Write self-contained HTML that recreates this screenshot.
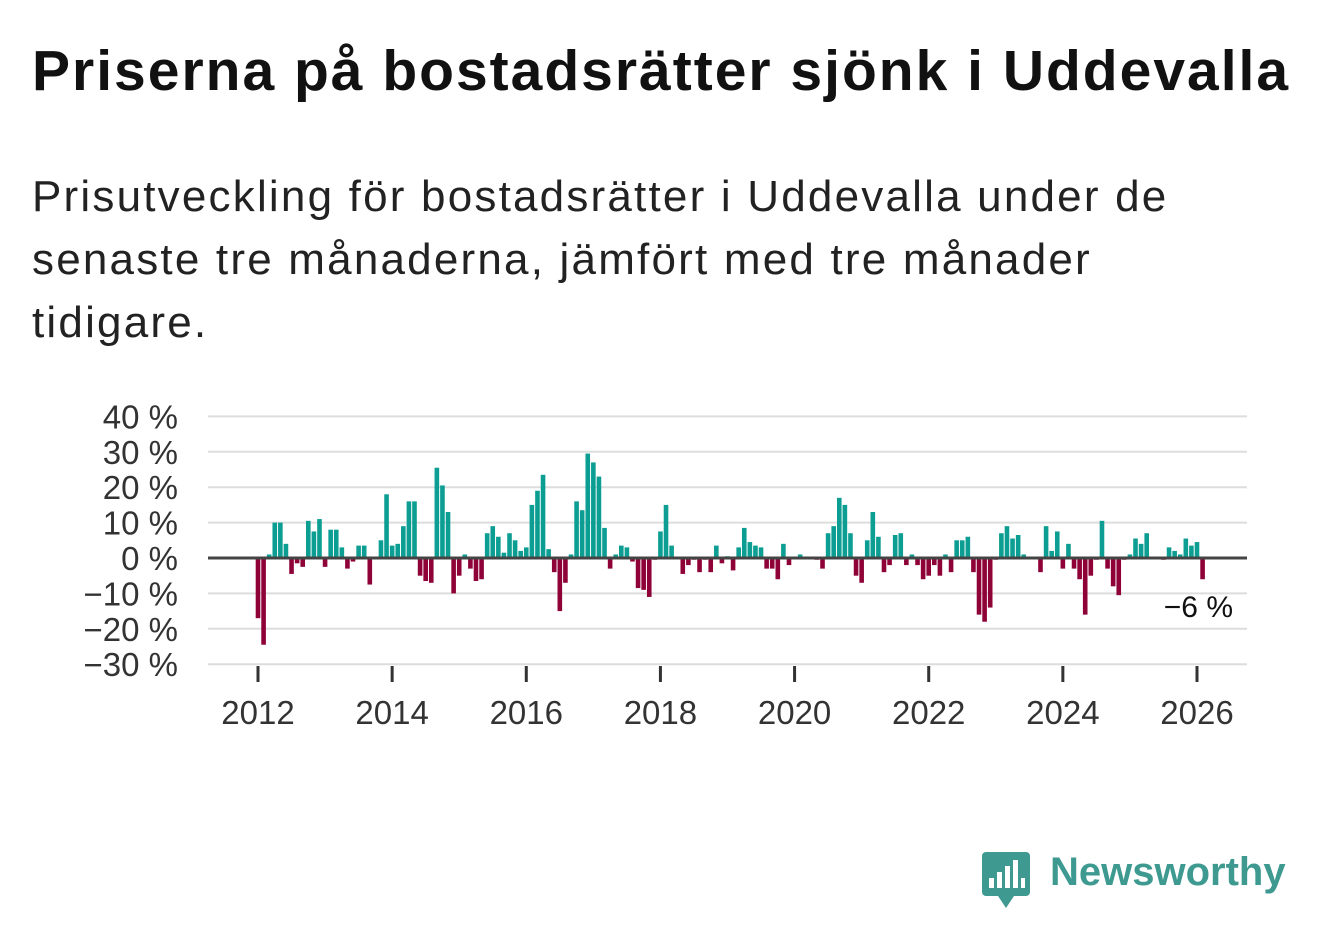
<!DOCTYPE html>
<html><head><meta charset="utf-8">
<style>
body{margin:0;background:#fff;width:1322px;height:939px;overflow:hidden;font-family:"Liberation Sans","DejaVu Sans",sans-serif;}
h1{position:absolute;left:32px;top:36px;margin:0;font-size:57px;line-height:70px;font-weight:bold;color:#111;letter-spacing:2px;white-space:nowrap}
.sub{position:absolute;left:32px;top:165px;margin:0;font-size:44px;line-height:63px;color:#222;width:1200px;letter-spacing:2.2px}
svg{position:absolute;left:0;top:0}
.logo{position:absolute;left:1050px;top:850px;font-size:40px;font-weight:bold;color:#3e9a90}
</style></head><body>
<h1>Priserna på bostadsrätter sjönk i Uddevalla</h1>
<p class="sub">Prisutveckling för bostadsrätter i Uddevalla under de senaste tre månaderna, jämfört med tre månader tidigare.</p>
<svg id="chart" width="1322" height="939"></svg>
<svg width="1322" height="939">
<rect x="982" y="852" width="48" height="44" rx="4" fill="#3e9a90"/>
<polygon points="998,896 1014,896 1006,908" fill="#3e9a90"/>
<rect x="989" y="878" width="5" height="10" fill="#fff"/><rect x="997" y="872" width="5" height="16" fill="#fff"/>
<rect x="1005" y="866" width="5" height="22" fill="#fff"/><rect x="1013" y="860" width="5" height="28" fill="#fff"/>
<rect x="1021" y="878" width="4" height="10" fill="#fff"/>
</svg>
<div class="logo">Newsworthy</div>
<script>
const values=[-17,-24.5,1,10,10,4,-4.5,-1.5,-2.5,10.5,7.5,11,-2.5,8,8,3,-3,-1,3.5,3.5,-7.5,0,5,18,3.5,4,9,16,16,-5,-6.5,-7,25.5,20.5,13,-10,-5,1,-3,-6.5,-6,7,9,6,1.5,7,5,2,3,15,19,23.5,2.5,-4,-15,-7,1,16,13.5,29.5,27,23,8.5,-3,1,3.5,3,-1,-8.5,-9,-11,-0.5,7.5,15,3.5,0,-4.5,-2,-0.5,-4,-0.5,-4,3.5,-1.5,0.5,-3.5,3,8.5,4.5,3.5,3,-3,-3,-6,4,-2,0,1,0,0,-0.5,-3,7,9,17,15,7,-5,-7,5,13,6,-4,-2,6.5,7,-2,1,-2,-6,-5,-2,-5,1,-4,5,5,6,-4,-16,-18,-14,-0.5,7,9,5.5,6.5,1,0,0,-4,9,2,7.5,-3,4,-3,-6,-16,-5,-0.5,10.5,-3,-8,-10.5,-0.5,1,5.5,4,7,0,0,-0.5,3,2,1,5.5,3.5,4.5,-6];
const yTicks=[40,30,20,10,0,-10,-20,-30];
const xYears=[2012,2014,2016,2018,2020,2022,2024,2026];
const lastLabel="−6 %";
const NS="http://www.w3.org/2000/svg";
const svg=document.getElementById('chart');
const x0=208,x1=1247;
const yPx=v=>558-v*3.54;
const xPx=i=>258+i*(939/168);
const xYear=y=>xPx((y-2012)*12);
function mk(t,a){const e=document.createElementNS(NS,t);for(const k in a)e.setAttribute(k,a[k]);svg.appendChild(e);return e;}
yTicks.forEach(v=>{
  if(v!==0){const g=mk('line',{x1:x0,x2:x1,y1:yPx(v),y2:yPx(v),stroke:'#ddd','stroke-width':2});
  
  }
  const t=mk('text',{x:178,y:yPx(v)+12,'text-anchor':'end','font-size':33,fill:'#333'});
  t.textContent=(v<0?'−'+(-v):v)+' %';
  
  
});
xYears.forEach(y=>{
  const tk=mk('line',{x1:xYear(y),x2:xYear(y),y1:666,y2:682,stroke:'#333','stroke-width':3});
  
  
  const t=mk('text',{x:xYear(y),y:724,'text-anchor':'middle','font-size':33,fill:'#333'});
  t.textContent=y;
  
  
});
values.forEach((v,i)=>{
  const y=Math.min(yPx(v),yPx(0)),h=Math.abs(yPx(v)-yPx(0));
  const b=mk('rect',{x:xPx(i)-2.3,y:y,width:4.6,height:h,fill:v>=0?'#0c9e93':'#8e0238'});
  
  
});
const z=mk('line',{x1:x0,x2:x1,y1:yPx(0),y2:yPx(0),stroke:'#444','stroke-width':3});


const l=mk('text',{x:1233,y:617,'text-anchor':'end','font-size':30,fill:'#111'});
l.textContent=lastLabel;


</script>
</body></html>
